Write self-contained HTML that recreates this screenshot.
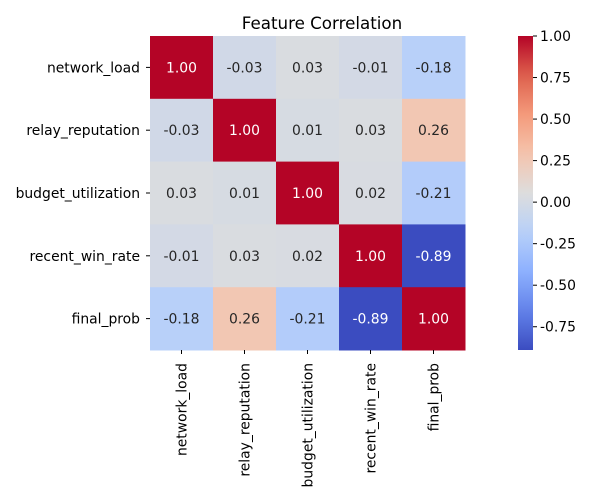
<!DOCTYPE html>
<html><head><meta charset="utf-8"><style>
body{margin:0;background:#fff;font-family:"DejaVu Sans","Liberation Sans",sans-serif;}
</style></head><body>
<svg id="chart" width="600" height="500" xmlns="http://www.w3.org/2000/svg" font-family="DejaVu Sans, Liberation Sans, sans-serif">
<defs><linearGradient id="cw" x1="0" y1="1" x2="0" y2="0"></linearGradient></defs>
<text x="322" y="29" text-anchor="middle" font-size="16.7">Feature Correlation</text>
<g id="cells"></g><g id="ylabels"></g><g id="xlabels"></g><g id="cbar"></g>
</svg>
<script>
const features = ["network_load","relay_reputation","budget_utilization","recent_win_rate","final_prob"];
const matrix = [
 [1.00,-0.03,0.03,-0.01,-0.18],
 [-0.03,1.00,0.01,0.03,0.26],
 [0.03,0.01,1.00,0.02,-0.21],
 [-0.01,0.03,0.02,1.00,-0.89],
 [-0.18,0.26,-0.21,-0.89,1.00]
];
const cbarTicks = [1.00,0.75,0.50,0.25,0.00,-0.25,-0.50,-0.75];
const NS="http://www.w3.org/2000/svg";
const FS=13.9;
const X0=150,Y0=36,W=315,H=314,n=features.length,cw=W/n,ch=H/n;
let vmin=Infinity,vmax=-Infinity;matrix.forEach(r=>r.forEach(v=>{vmin=Math.min(vmin,v);vmax=Math.max(vmax,v);}));
const anchors=[[59,76,192],[98,130,234],[141,176,254],[184,208,249],[221,221,221],[245,196,173],[244,154,123],[222,96,77],[180,4,38]];
function cmap(t){t=Math.max(0,Math.min(1,t));const p=t*8,i=Math.min(7,Math.floor(p)),f=p-i;const a=anchors[i],b=anchors[i+1];
 return a.map((c,k)=>Math.round(c+(b[k]-c)*f));}
function norm(v){return (v-vmin)/(vmax-vmin);}
function el(tag,attrs,parent){const e=document.createElementNS(NS,tag);for(const k in attrs)e.setAttribute(k,attrs[k]);parent.appendChild(e);return e;}
const cells=document.getElementById('cells');
matrix.forEach((row,i)=>row.forEach((v,j)=>{
 const c=cmap(norm(v));
 const r=el('rect',{x:X0+j*cw,y:Y0+i*ch,width:cw+0.5,height:ch+0.5,fill:`rgb(${c})`},cells);
 
 
 const lum=0.299*c[0]+0.587*c[1]+0.114*c[2];
 const t=el('text',{x:X0+(j+0.5)*cw,y:Y0+(i+0.5)*ch+5,'text-anchor':'middle','font-size':FS,fill:lum<110?'#fff':'#262626'},cells);
 t.textContent=v.toFixed(2);
 
 
}));
const yl=document.getElementById('ylabels'),xl=document.getElementById('xlabels');
features.forEach((f,i)=>{
 const cy=Y0+(i+0.5)*ch;
 el('line',{x1:X0-4,x2:X0,y1:cy,y2:cy,stroke:'#000'},yl);
 const t=el('text',{x:X0-10,y:cy+5,'text-anchor':'end','font-size':FS},yl);t.textContent=f;
 
 
 const cx=X0+(i+0.5)*cw;
 el('line',{x1:cx,x2:cx,y1:Y0+H,y2:Y0+H+4,stroke:'#000'},xl);
 const u=el('text',{x:0,y:0,'text-anchor':'end','font-size':FS,transform:`translate(${cx+5},${Y0+H+13}) rotate(-90)`},xl);u.textContent=f;
 
 
});
const grad=document.getElementById('cw');
for(let k=0;k<=20;k++){const c=cmap(k/20);el('stop',{offset:k/20,'stop-color':`rgb(${c})`},grad);}
const cb=document.getElementById('cbar');const CX=518,CW=15;
const bar=el('rect',{x:CX,y:Y0,width:CW,height:H,fill:'url(#cw)'},cb);


function cy(v){return Y0+H-(v-vmin)/(vmax-vmin)*H;}
cbarTicks.forEach(v=>{const y=cy(v);
 el('line',{x1:CX+CW,x2:CX+CW+4,y1:y,y2:y,stroke:'#000'},cb);
 const t=el('text',{x:CX+CW+7,y:y+5,'font-size':FS},cb);t.textContent=v.toFixed(2);
 
 
});
</script>
</body></html>
